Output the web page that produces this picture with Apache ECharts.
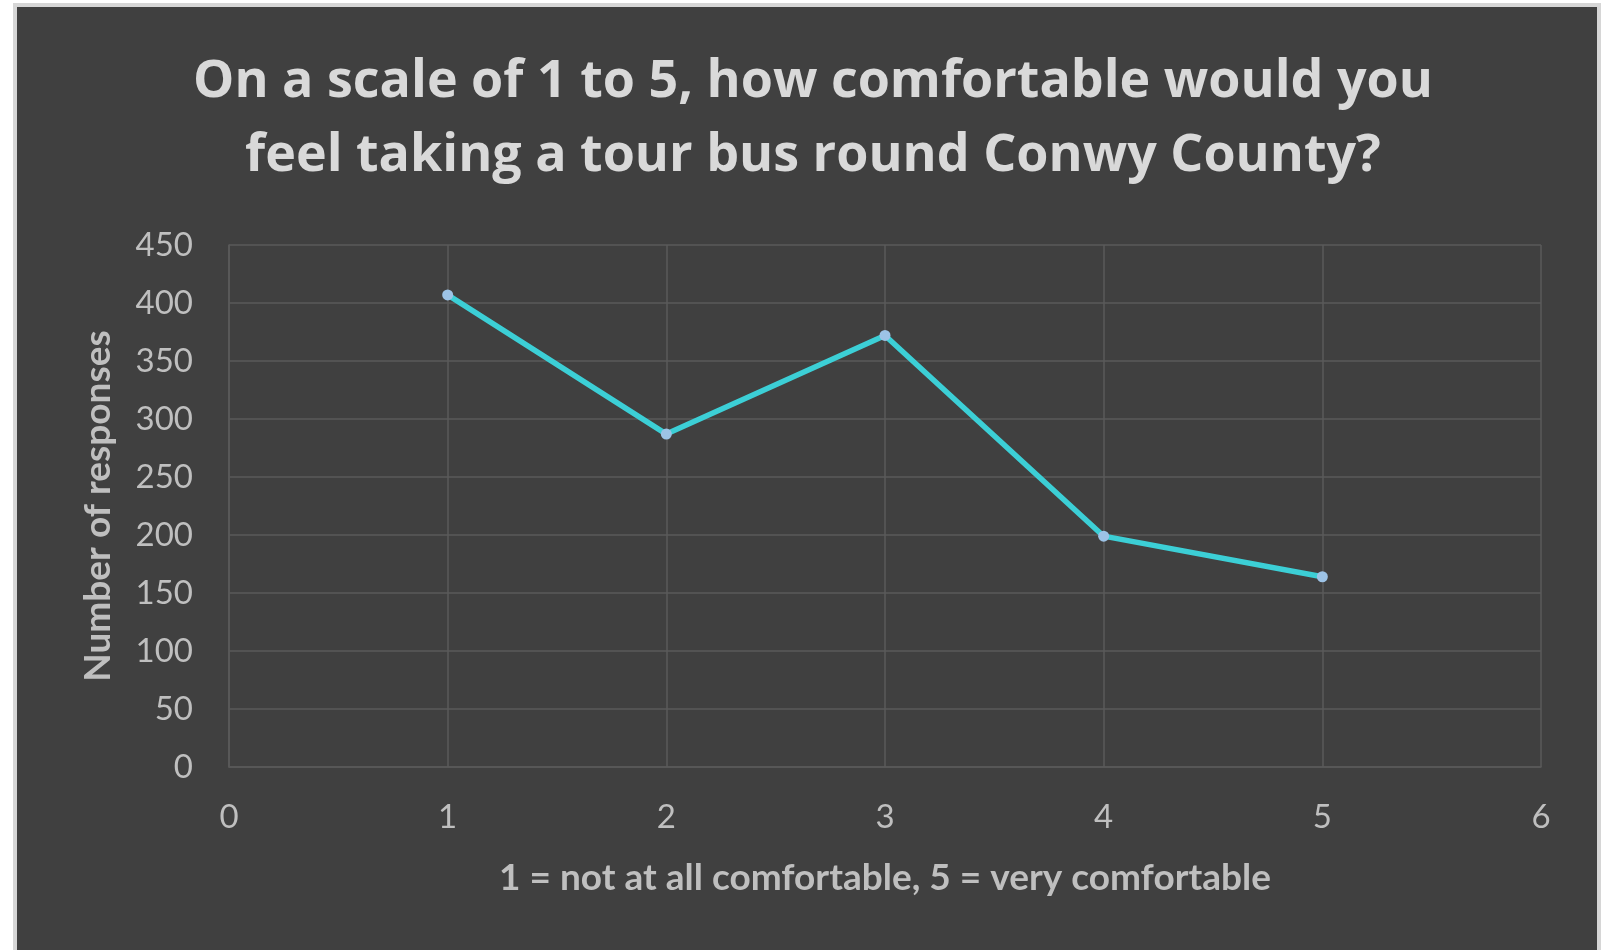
<!DOCTYPE html>
<html>
<head>
<meta charset="utf-8">
<title>Tour bus comfort survey</title>
<script src="https://cdn.jsdelivr.net/npm/echarts@6/dist/echarts.min.js"></script>
<style>
  html, body { margin: 0; padding: 0; background: #ffffff; width: 1606px; height: 950px; overflow: hidden; }
  #frame {
    position: absolute; left: 13px; top: 3px; width: 1580px; height: 960px;
    background: #404040; border: 4px solid #d6d6d6;
  }
  #chart { position: absolute; left: 0; top: 0; width: 1606px; height: 950px; }
</style>
</head>
<body>
<div id="frame"></div>
<div id="chart"></div>
<script>
// Survey answers: comfort rating (1-5) and how many people chose it
const ratings = [1, 2, 3, 4, 5];
const responses = [407, 287, 372, 199, 164];

const titleLines = [
  'On a scale of 1 to 5, how comfortable would you',
  'feel taking a tour bus round Conwy County?'
];
const xTitle = '1 = not at all comfortable, 5 = very comfortable';
const yTitle = 'Number of responses';

const FONT = 'Lato, "Open Sans", sans-serif';
const TITLE_FONT = '"Open Sans", Lato, sans-serif';
const gridColor = '#5a5a5a';
const labelColor = '#bfbfbf';

const chart = echarts.init(document.getElementById('chart'), null, { renderer: 'canvas' });

chart.setOption({
  backgroundColor: 'transparent',
  animation: false,
  title: {
    text: titleLines.join('\n'),
    left: 808,
    top: 40,
    textAlign: 'center',
    textStyle: {
      fontFamily: TITLE_FONT, fontWeight: 'bold', fontSize: 52, lineHeight: 74, color: '#d9d9d9'
    }
  },
  grid: { left: 229, top: 245, right: 65, bottom: 183, containLabel: false },
  xAxis: {
    type: 'value', min: 0, max: 6, interval: 1,
    name: xTitle, nameLocation: 'middle', nameGap: 93,
    nameTextStyle: { fontFamily: FONT, fontWeight: 'bold', fontSize: 37, color: labelColor },
    axisLine: { show: true, lineStyle: { color: gridColor, width: 1.5 } },
    axisTick: { show: false },
    axisLabel: { fontFamily: FONT, fontSize: 33, color: labelColor, margin: 34 },
    splitLine: { show: true, lineStyle: { color: gridColor, width: 1.5 } }
  },
  yAxis: {
    type: 'value', min: 0, max: 450, interval: 50,
    name: yTitle, nameLocation: 'middle', nameGap: 112, nameRotate: 90,
    nameTextStyle: { fontFamily: FONT, fontWeight: 'bold', fontSize: 37, color: labelColor },
    axisLine: { show: true, lineStyle: { color: gridColor, width: 1.5 } },
    axisTick: { show: false },
    axisLabel: { fontFamily: FONT, fontSize: 33, color: labelColor, margin: 36 },
    splitLine: { show: true, lineStyle: { color: gridColor, width: 1.5 } }
  },
  series: [{
    type: 'line',
    data: ratings.map((r, i) => [r, responses[i]]),
    symbol: 'circle',
    symbolSize: 11,
    showAllSymbol: true,
    lineStyle: { color: '#3ccfd6', width: 5.5 },
    itemStyle: { color: '#9dc3e6', borderWidth: 0 },
    z: 3
  }]
});
</script>
</body>
</html>
